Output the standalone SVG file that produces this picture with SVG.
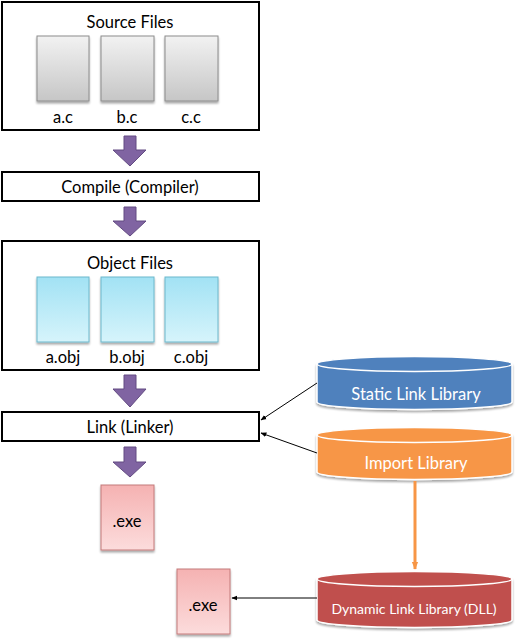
<svg xmlns="http://www.w3.org/2000/svg" width="517" height="640" viewBox="0 0 517 640">
<defs>
<linearGradient id="gGray" x1="0" y1="0" x2="0" y2="1"><stop offset="0" stop-color="#f2f2f2"/><stop offset="1" stop-color="#c6c6c6"/></linearGradient>
<linearGradient id="gCyan" x1="0" y1="0" x2="0" y2="1"><stop offset="0" stop-color="#a2e2f4"/><stop offset="1" stop-color="#d6f4fb"/></linearGradient>
<linearGradient id="gPink" x1="0" y1="0" x2="0" y2="1"><stop offset="0" stop-color="#f5b2b2"/><stop offset="1" stop-color="#fcdcdc"/></linearGradient>
<filter id="sh" x="-10%" y="-10%" width="120%" height="130%"><feGaussianBlur in="SourceAlpha" stdDeviation="1.2"/><feOffset dx="0" dy="1.5"/><feComponentTransfer><feFuncA type="linear" slope="0.35"/></feComponentTransfer><feMerge><feMergeNode/><feMergeNode in="SourceGraphic"/></feMerge></filter>
<marker id="ah" viewBox="0 0 10 10" refX="9" refY="5" markerWidth="6" markerHeight="6" orient="auto-start-reverse" markerUnits="userSpaceOnUse"><path d="M0,1 L10,5 L0,9 Z" fill="#000"/></marker>
<marker id="ahO" viewBox="0 0 10 10" refX="9" refY="5" markerWidth="8" markerHeight="8" orient="auto" markerUnits="userSpaceOnUse"><path d="M0,1 L10,5 L0,9 Z" fill="#f79646"/></marker>
</defs>
<style>
.box{fill:#fff;stroke:#000;stroke-width:2}
.t{font-family:Lato,"Liberation Sans",sans-serif;font-size:16.5px;fill:#000;text-anchor:middle}
.tw{font-family:Lato,"Liberation Sans",sans-serif;font-size:16.5px;fill:#fff;text-anchor:middle}
.fg{fill:url(#gGray);stroke:#8c8c8c;stroke-width:1}
.fc{fill:url(#gCyan);stroke:#6cb8cc;stroke-width:1}
.fp{fill:url(#gPink);stroke:#c47a7a;stroke-width:1}
.pa{fill:#8064a2;stroke:#634b82;stroke-width:1}
.cyl{stroke:#fff;stroke-width:1.5}
.con{stroke:#000;stroke-width:1;fill:none}
</style>
<g id="source-files">
<rect class="box" x="2" y="2" width="257" height="128"/>
<text class="t" x="130" y="28">Source Files</text>
<rect class="fg" x="37" y="36" width="52" height="65" filter="url(#sh)"/>
<rect class="fg" x="101" y="36" width="53" height="65" filter="url(#sh)"/>
<rect class="fg" x="165" y="36" width="53" height="65" filter="url(#sh)"/>
<text class="t" x="63" y="123">a.c</text>
<text class="t" x="127" y="123">b.c</text>
<text class="t" x="191" y="123">c.c</text>
</g>
<g id="compile">
<rect class="box" x="2" y="172" width="257" height="29"/>
<text class="t" x="130" y="193">Compile (Compiler)</text>
</g>
<g id="object-files">
<rect class="box" x="2" y="241" width="257" height="129"/>
<text class="t" x="130" y="269">Object Files</text>
<rect class="fc" x="37" y="277" width="52" height="65" filter="url(#sh)"/>
<rect class="fc" x="101" y="277" width="53" height="65" filter="url(#sh)"/>
<rect class="fc" x="165" y="277" width="53" height="65" filter="url(#sh)"/>
<text class="t" x="63" y="363">a.obj</text>
<text class="t" x="127" y="363">b.obj</text>
<text class="t" x="191" y="363">c.obj</text>
</g>
<g id="link">
<rect class="box" x="2" y="412" width="257" height="29"/>
<text class="t" x="130" y="433">Link (Linker)</text>
</g>
<g id="exe1">
<rect class="fp" x="101" y="485" width="53" height="65" filter="url(#sh)"/>
<text class="t" x="127" y="527">.exe</text>
</g>
<g id="exe2">
<rect class="fp" x="177" y="569" width="53" height="65" filter="url(#sh)"/>
<text class="t" x="203" y="611">.exe</text>
</g>
<g id="static-lib">
<path class="cyl" fill="#4f81bd" filter="url(#sh)" d="M317,364 A97.5,7.5 0 0 1 512,364 V402 A97.5,7.5 0 0 1 317,402 Z"/>
<ellipse class="cyl" fill="#4f81bd" cx="414.5" cy="364" rx="97.5" ry="7.5"/>
<text class="tw" x="416" y="400">Static Link Library</text>
</g>
<g id="import-lib">
<path class="cyl" fill="#f79646" filter="url(#sh)" d="M317,435 A97.5,7.5 0 0 1 512,435 V472 A97.5,7.5 0 0 1 317,472 Z"/>
<ellipse class="cyl" fill="#f79646" cx="414.5" cy="435" rx="97.5" ry="7.5"/>
<text class="tw" x="416" y="469">Import Library</text>
</g>
<g id="dll">
<path class="cyl" fill="#c0504d" filter="url(#sh)" d="M317,579 A97.5,7.5 0 0 1 512,579 V620 A97.5,7.5 0 0 1 317,620 Z"/>
<ellipse class="cyl" fill="#c0504d" cx="414.5" cy="579" rx="97.5" ry="7.5"/>
<text class="tw" x="414" y="614" style="font-size:14px">Dynamic Link Library (DLL)</text>
</g>
<g id="connectors">
<path class="pa" d="M124,136 H136 V150 H146 L130,166 L113,150 H124 Z"/>
<path class="pa" d="M124,207 H136 V221 H146 L130,236 L113,221 H124 Z"/>
<path class="pa" d="M124,375 H136 V389 H146 L130,407 L113,389 H124 Z"/>
<path class="pa" d="M124,447 H136 V462 H146 L130,477 L113,462 H124 Z"/>
<line class="con" x1="317" y1="383" x2="261" y2="420" marker-end="url(#ah)"/>
<line class="con" x1="317" y1="453" x2="261" y2="433" marker-end="url(#ah)"/>
<line class="con" x1="317" y1="598" x2="232" y2="598" marker-end="url(#ah)"/>
<line x1="415" y1="481" x2="415" y2="569" stroke="#f79646" stroke-width="3" marker-end="url(#ahO)"/>
</g>
</svg>
